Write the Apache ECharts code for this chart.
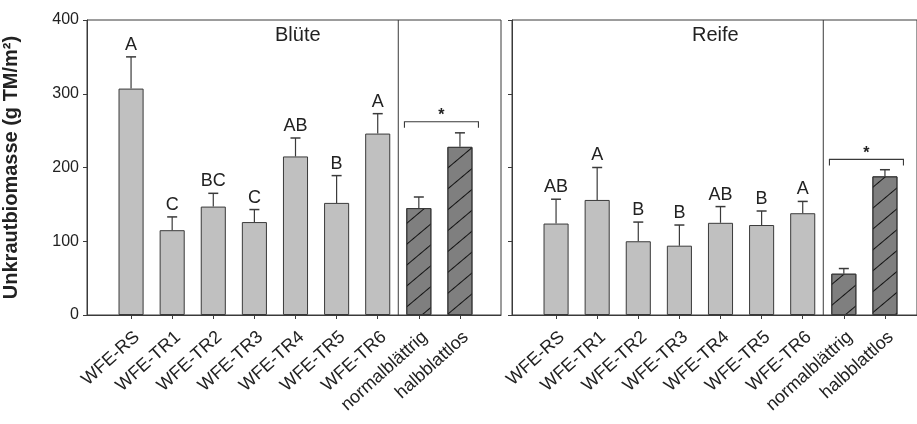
<!DOCTYPE html>
<html>
<head>
<meta charset="utf-8">
<script src="https://cdn.jsdelivr.net/npm/echarts@6/dist/echarts.min.js"></script>
<style>
  html, body { margin: 0; padding: 0; background: #fff; }
  #main { width: 917px; height: 424px; }
</style>
</head>
<body>
<div id="main"></div>
<script>
// Kategorien (x-Achse)
const categories = ['WFE-RS', 'WFE-TR1', 'WFE-TR2', 'WFE-TR3', 'WFE-TR4', 'WFE-TR5', 'WFE-TR6', 'normalblättrig', 'halbblattlos'];
// Blüte: Mittelwerte, Fehlerbalken (nach oben), Buchstaben
const bluteMean = [307, 115, 147, 126, 215, 152, 246, 145, 228];
const bluteErr = [43, 18, 18, 17, 25, 37, 27, 15, 19];
const bluteLetters = ['A', 'C', 'BC', 'C', 'AB', 'B', 'A', '', ''];
const bluteBracket = 262;
// Reife
const reifeMean = [124, 156, 100, 94, 125, 122, 138, 56, 188];
const reifeErr = [33, 44, 26, 28, 22, 19, 16, 7, 9];
const reifeLetters = ['AB', 'A', 'B', 'B', 'AB', 'B', 'A', '', ''];
const reifeBracket = 211;
// y-Achse
const yMin = 0, yMax = 400, yStep = 100;

const FONT = 'Liberation Sans, Arial, sans-serif';
const LINE = '#3a3a3a';

let chart = echarts.init(document.getElementById('main'));

function barData(means) {
    return means.map((v, i) => {
        if (i < 7) {
            return { value: v, itemStyle: { color: '#c0c0c0' } };
        }
        return {
            value: v,
            itemStyle: {
                color: '#7f7f7f',
                decal: {
                    symbol: 'rect',
                    symbolSize: 1,
                    color: '#111',
                    dashArrayX: [1, 0],
                    dashArrayY: [1, 15],
                    rotation: -Math.PI / 4.5
                }
            }
        };
    });
}

function errSeries(axisIdx, means, errs, letters) {
    return {
        type: 'custom',
        xAxisIndex: axisIdx,
        yAxisIndex: axisIdx,
        data: means.map((m, i) => [i, m, m + errs[i]]),
        renderItem: (params, api) => {
            let base = api.coord([api.value(0), api.value(1)]);
            let top = api.coord([api.value(0), api.value(2)]);
            let children = [
                { type: 'line', shape: { x1: base[0], y1: base[1], x2: top[0], y2: top[1] }, style: { stroke: LINE, lineWidth: 1.2 } },
                { type: 'line', shape: { x1: top[0] - 5, y1: top[1], x2: top[0] + 5, y2: top[1] }, style: { stroke: LINE, lineWidth: 1.5 } }
            ];
            let txt = letters[params.dataIndex];
            if (txt) {
                children.push({
                    type: 'text',
                    style: { text: txt, x: top[0], y: top[1] - 3, align: 'center', verticalAlign: 'bottom', font: '18px ' + FONT, fill: '#222' }
                });
            }
            return { type: 'group', children };
        },
        z: 3
    };
}

// Trennlinie zwischen WFE und Sorten + Klammer mit Stern
function extraSeries(axisIdx, bracket) {
    return {
        type: 'custom',
        xAxisIndex: axisIdx,
        yAxisIndex: axisIdx,
        data: [[0]],
        renderItem: (params, api) => {
            let band = api.size([1, 0])[0];
            let c6 = api.coord([6, yMin]);
            let c7 = api.coord([7, yMin]);
            let c8 = api.coord([8, yMin]);
            let topY = api.coord([0, yMax])[1];
            let divX = (c6[0] + c7[0]) / 2;
            let by = api.coord([7, bracket])[1];
            let bx1 = c7[0] - 0.35 * band;
            let bx2 = c8[0] + 0.45 * band;
            return {
                type: 'group',
                children: [
                    { type: 'line', shape: { x1: divX, y1: topY, x2: divX, y2: c6[1] }, style: { stroke: LINE, lineWidth: 1 } },
                    { type: 'polyline', shape: { points: [[bx1, by + 6], [bx1, by], [bx2, by], [bx2, by + 6]] }, style: { stroke: LINE, lineWidth: 1.1, fill: 'none' } },
                    { type: 'text', style: { text: '*', x: (bx1 + bx2) / 2, y: by + 2, align: 'center', verticalAlign: 'bottom', font: 'bold 16px ' + FONT, fill: '#222' } }
                ]
            };
        },
        silent: true,
        z: 3
    };
}

function frameAxes(showLabels) {
    return {
        type: 'value',
        min: yMin, max: yMax, interval: yStep,
        axisLine: { show: true, lineStyle: { color: LINE, width: 1 } },
        axisTick: { show: true, length: 4, lineStyle: { color: LINE } },
        axisLabel: { show: showLabels, fontFamily: FONT, fontSize: 16, color: '#222', margin: 8 },
        splitLine: { show: false }
    };
}

let catAxis = idx => ({
    type: 'category',
    gridIndex: idx,
    data: categories,
    axisLine: { show: false },
    axisTick: { show: true, alignWithLabel: true, length: 4, lineStyle: { color: LINE } },
    axisLabel: { interval: 0, rotate: 42, verticalAlign: 'top', fontFamily: FONT, fontSize: 18, color: '#222', margin: 13 }
});

let option = {
    backgroundColor: '#fff',
    animation: false,
    grid: [
        // Rahmen
        { left: 87, top: 20, width: 414, height: 295, show: true, borderColor: LINE, borderWidth: 1 },
        { left: 512, top: 20, width: 414, height: 295, show: true, borderColor: LINE, borderWidth: 1 },
        // Balken
        { left: 110.5, top: 20, width: 370, height: 295 },
        { left: 535.5, top: 20, width: 370, height: 295 }
    ],
    xAxis: [
        { type: 'value', gridIndex: 0, min: 0, max: 1, axisLine: { show: true, lineStyle: { color: LINE } }, axisTick: { show: false }, axisLabel: { show: false }, splitLine: { show: false } },
        { type: 'value', gridIndex: 1, min: 0, max: 1, axisLine: { show: true, lineStyle: { color: LINE } }, axisTick: { show: false }, axisLabel: { show: false }, splitLine: { show: false } },
        catAxis(2),
        catAxis(3)
    ],
    yAxis: [
        Object.assign(frameAxes(true), {
            gridIndex: 0,
            name: 'Unkrautbiomasse (g TM/m²)',
            nameLocation: 'middle',
            nameGap: 66,
            nameTextStyle: { fontFamily: FONT, fontSize: 20, fontWeight: 'bold', color: '#222' }
        }),
        Object.assign(frameAxes(false), { gridIndex: 1 }),
        { type: 'value', gridIndex: 2, min: yMin, max: yMax, show: false },
        { type: 'value', gridIndex: 3, min: yMin, max: yMax, show: false }
    ],
    graphic: [
        { type: 'text', left: 275, top: 25, style: { text: 'Blüte', font: '20px ' + FONT, fill: '#222' } },
        { type: 'text', left: 692, top: 25, style: { text: 'Reife', font: '20px ' + FONT, fill: '#222' } }
    ],
    series: [
        {
            type: 'bar', xAxisIndex: 2, yAxisIndex: 2,
            data: barData(bluteMean), barWidth: '61%',
            itemStyle: { borderColor: LINE, borderWidth: 1 }
        },
        errSeries(2, bluteMean, bluteErr, bluteLetters),
        extraSeries(2, bluteBracket),
        {
            type: 'bar', xAxisIndex: 3, yAxisIndex: 3,
            data: barData(reifeMean), barWidth: '61%',
            itemStyle: { borderColor: LINE, borderWidth: 1 }
        },
        errSeries(3, reifeMean, reifeErr, reifeLetters),
        extraSeries(3, reifeBracket)
    ]
};

chart.setOption(option);
</script>
</body>
</html>
